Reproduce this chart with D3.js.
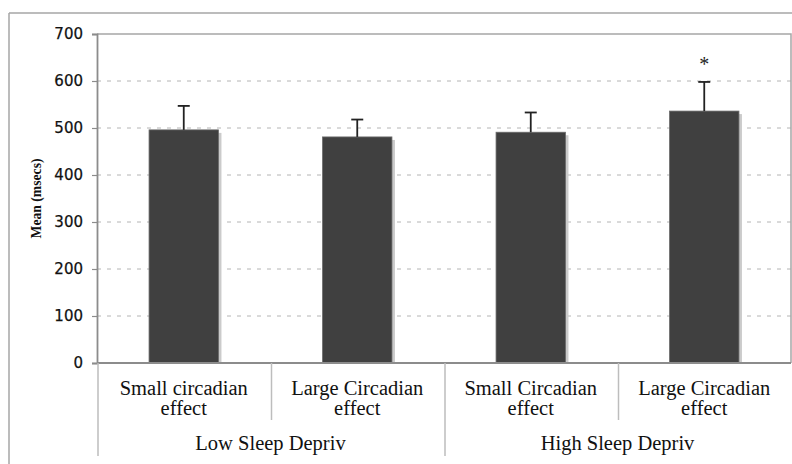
<!DOCTYPE html>
<html>
<head>
<meta charset="utf-8">
<script src="https://cdn.jsdelivr.net/npm/d3@7"></script>
<style>
  body { margin: 0; background: #fff; }
  svg { display: block; }
</style>
</head>
<body>
<svg id="chart" width="792" height="464"></svg>
<script>
// data
var categories = ["Small circadian|effect", "Large Circadian|effect", "Small Circadian|effect", "Large Circadian|effect"];
var groups = ["Low Sleep Depriv", "High Sleep Depriv"];
var groupOf = [0, 0, 1, 1];
var means = [496, 481, 491, 536];
var errors = [51, 37, 42, 62]; // upper error bar length
var marks = ["", "", "", "*"];
var yTicks = [0, 100, 200, 300, 400, 500, 600, 700];

var width = 792, height = 464;
var margin = {top: 34, right: 1, bottom: 101, left: 97};

var svg = d3.select("#chart");

// outer frame (only top and left show)
svg.append("line")
    .attr("x1", 9).attr("x2", width).attr("y1", 13).attr("y2", 13)
    .attr("stroke", "#a6a6a6").attr("stroke-width", 1.5);
svg.append("line")
    .attr("x1", 9).attr("x2", 9).attr("y1", 13).attr("y2", height)
    .attr("stroke", "#a6a6a6").attr("stroke-width", 1.5);

var x = d3.scaleBand()
    .domain(d3.range(categories.length))
    .range([margin.left, width - margin.right])
    .paddingInner(0.6)
    .paddingOuter(0.3);

var y = d3.scaleLinear()
    .domain([0, 700])
    .range([height - margin.bottom, margin.top]);

var x0 = margin.left, x1 = width - margin.right;
var step = x.step();

// grid
svg.append("g")
  .selectAll("line")
  .data(yTicks.filter(function(d) { return d > 0 && d < 700; }))
  .join("line")
    .attr("x1", x0).attr("x2", x1)
    .attr("y1", function(d) { return y(d); })
    .attr("y2", function(d) { return y(d); })
    .attr("stroke", "#b4b4b4")
    .attr("stroke-dasharray", "4,6");

// plot border top / right
svg.append("path")
    .attr("d", "M" + x0 + "," + y(700) + "H" + x1 + "V" + y(0))
    .attr("fill", "none").attr("stroke", "#a6a6a6").attr("stroke-width", 1.5);

// y axis
var yAxis = svg.append("g")
    .attr("transform", "translate(" + x0 + ",0)")
    .call(d3.axisLeft(y).tickValues(yTicks).tickSize(5).tickPadding(9));
yAxis.select(".domain").attr("stroke", "#8c8c8c").attr("stroke-width", 1.8);
yAxis.selectAll(".tick line").attr("stroke", "#8c8c8c").attr("stroke-width", 1.2);
yAxis.selectAll(".tick text")
    .attr("font-family", "DejaVu Sans, Verdana, sans-serif")
    .attr("font-size", 15)
    .attr("fill", "#111")
    .attr("stroke", "#111")
    .attr("stroke-width", 0.25);

svg.append("text")
    .attr("transform", "translate(36," + ((y(0) + y(700)) / 2) + ") rotate(-90)")
    .attr("text-anchor", "middle")
    .attr("dominant-baseline", "central")
    .attr("font-family", "Liberation Serif, Times New Roman, serif")
    .attr("font-weight", "bold")
    .attr("font-size", 15)
    .attr("textLength", 80)
    .attr("lengthAdjust", "spacingAndGlyphs")
    .attr("fill", "#111")
    .text("Mean (msecs)");

// bars with shadow
var bars = svg.append("g");
bars.selectAll("rect.shadow")
  .data(means)
  .join("rect")
    .attr("class", "shadow")
    .attr("x", function(d, i) { return x(i) + 3; })
    .attr("y", function(d) { return y(d) + 3; })
    .attr("width", x.bandwidth())
    .attr("height", function(d) { return y(0) - y(d) - 3; })
    .attr("fill", "#cbcbcb");
bars.selectAll("rect.bar")
  .data(means)
  .join("rect")
    .attr("class", "bar")
    .attr("x", function(d, i) { return x(i); })
    .attr("y", function(d) { return y(d); })
    .attr("width", x.bandwidth())
    .attr("height", function(d) { return y(0) - y(d); })
    .attr("fill", "#404040")
    .attr("stroke", "#6a6a6a")
    .attr("stroke-width", 0.8);

// error bars
var err = svg.append("g").attr("stroke", "#222").attr("stroke-width", 1.8);
means.forEach(function(m, i) {
  var cx = x(i) + x.bandwidth() / 2;
  err.append("line")
      .attr("x1", cx).attr("x2", cx)
      .attr("y1", y(m)).attr("y2", y(m + errors[i]));
  err.append("line")
      .attr("x1", cx - 6).attr("x2", cx + 6)
      .attr("y1", y(m + errors[i])).attr("y2", y(m + errors[i]));
  if (marks[i]) {
    svg.append("text")
        .attr("x", cx)
        .attr("y", y(m + errors[i]) - 11)
        .attr("text-anchor", "middle")
        .attr("font-family", "Liberation Serif, Times New Roman, serif")
        .attr("font-size", 20)
        .attr("fill", "#222")
        .text(marks[i]);
  }
});

// x axis line
svg.append("line")
    .attr("x1", x0).attr("x2", x1).attr("y1", y(0)).attr("y2", y(0))
    .attr("stroke", "#8c8c8c").attr("stroke-width", 1.8);

// category dividers
var dividers = svg.append("g").attr("stroke", "#bdbdbd").attr("stroke-width", 1.5);
d3.range(categories.length).forEach(function(i) {
  var bx = x(i) - step * x.paddingOuter();
  var isGroupEdge = i === 0 || groupOf[i] !== groupOf[i - 1];
  dividers.append("line")
      .attr("x1", bx + 1).attr("x2", bx + 1)
      .attr("y1", y(0)).attr("y2", isGroupEdge ? 456 : 420);
});

// category labels
var serif = "Liberation Serif, Times New Roman, serif";
categories.forEach(function(c, i) {
  var cx = x(i) + x.bandwidth() / 2;
  c.split("|").forEach(function(line, k) {
    svg.append("text")
        .attr("x", cx).attr("y", 395 + k * 20)
        .attr("text-anchor", "middle")
        .attr("font-family", serif)
        .attr("font-size", 20.5)
        .attr("fill", "#111")
        .text(line);
  });
});

// group labels
groups.forEach(function(g, gi) {
  var idx = d3.range(categories.length).filter(function(i) { return groupOf[i] === gi; });
  var gx = (x(idx[0]) + x(idx[idx.length - 1]) + x.bandwidth()) / 2;
  svg.append("text")
      .attr("x", gx).attr("y", 450)
      .attr("text-anchor", "middle")
      .attr("font-family", serif)
      .attr("font-size", 20.5)
      .attr("fill", "#111")
      .text(g);
});
</script>
</body>
</html>
